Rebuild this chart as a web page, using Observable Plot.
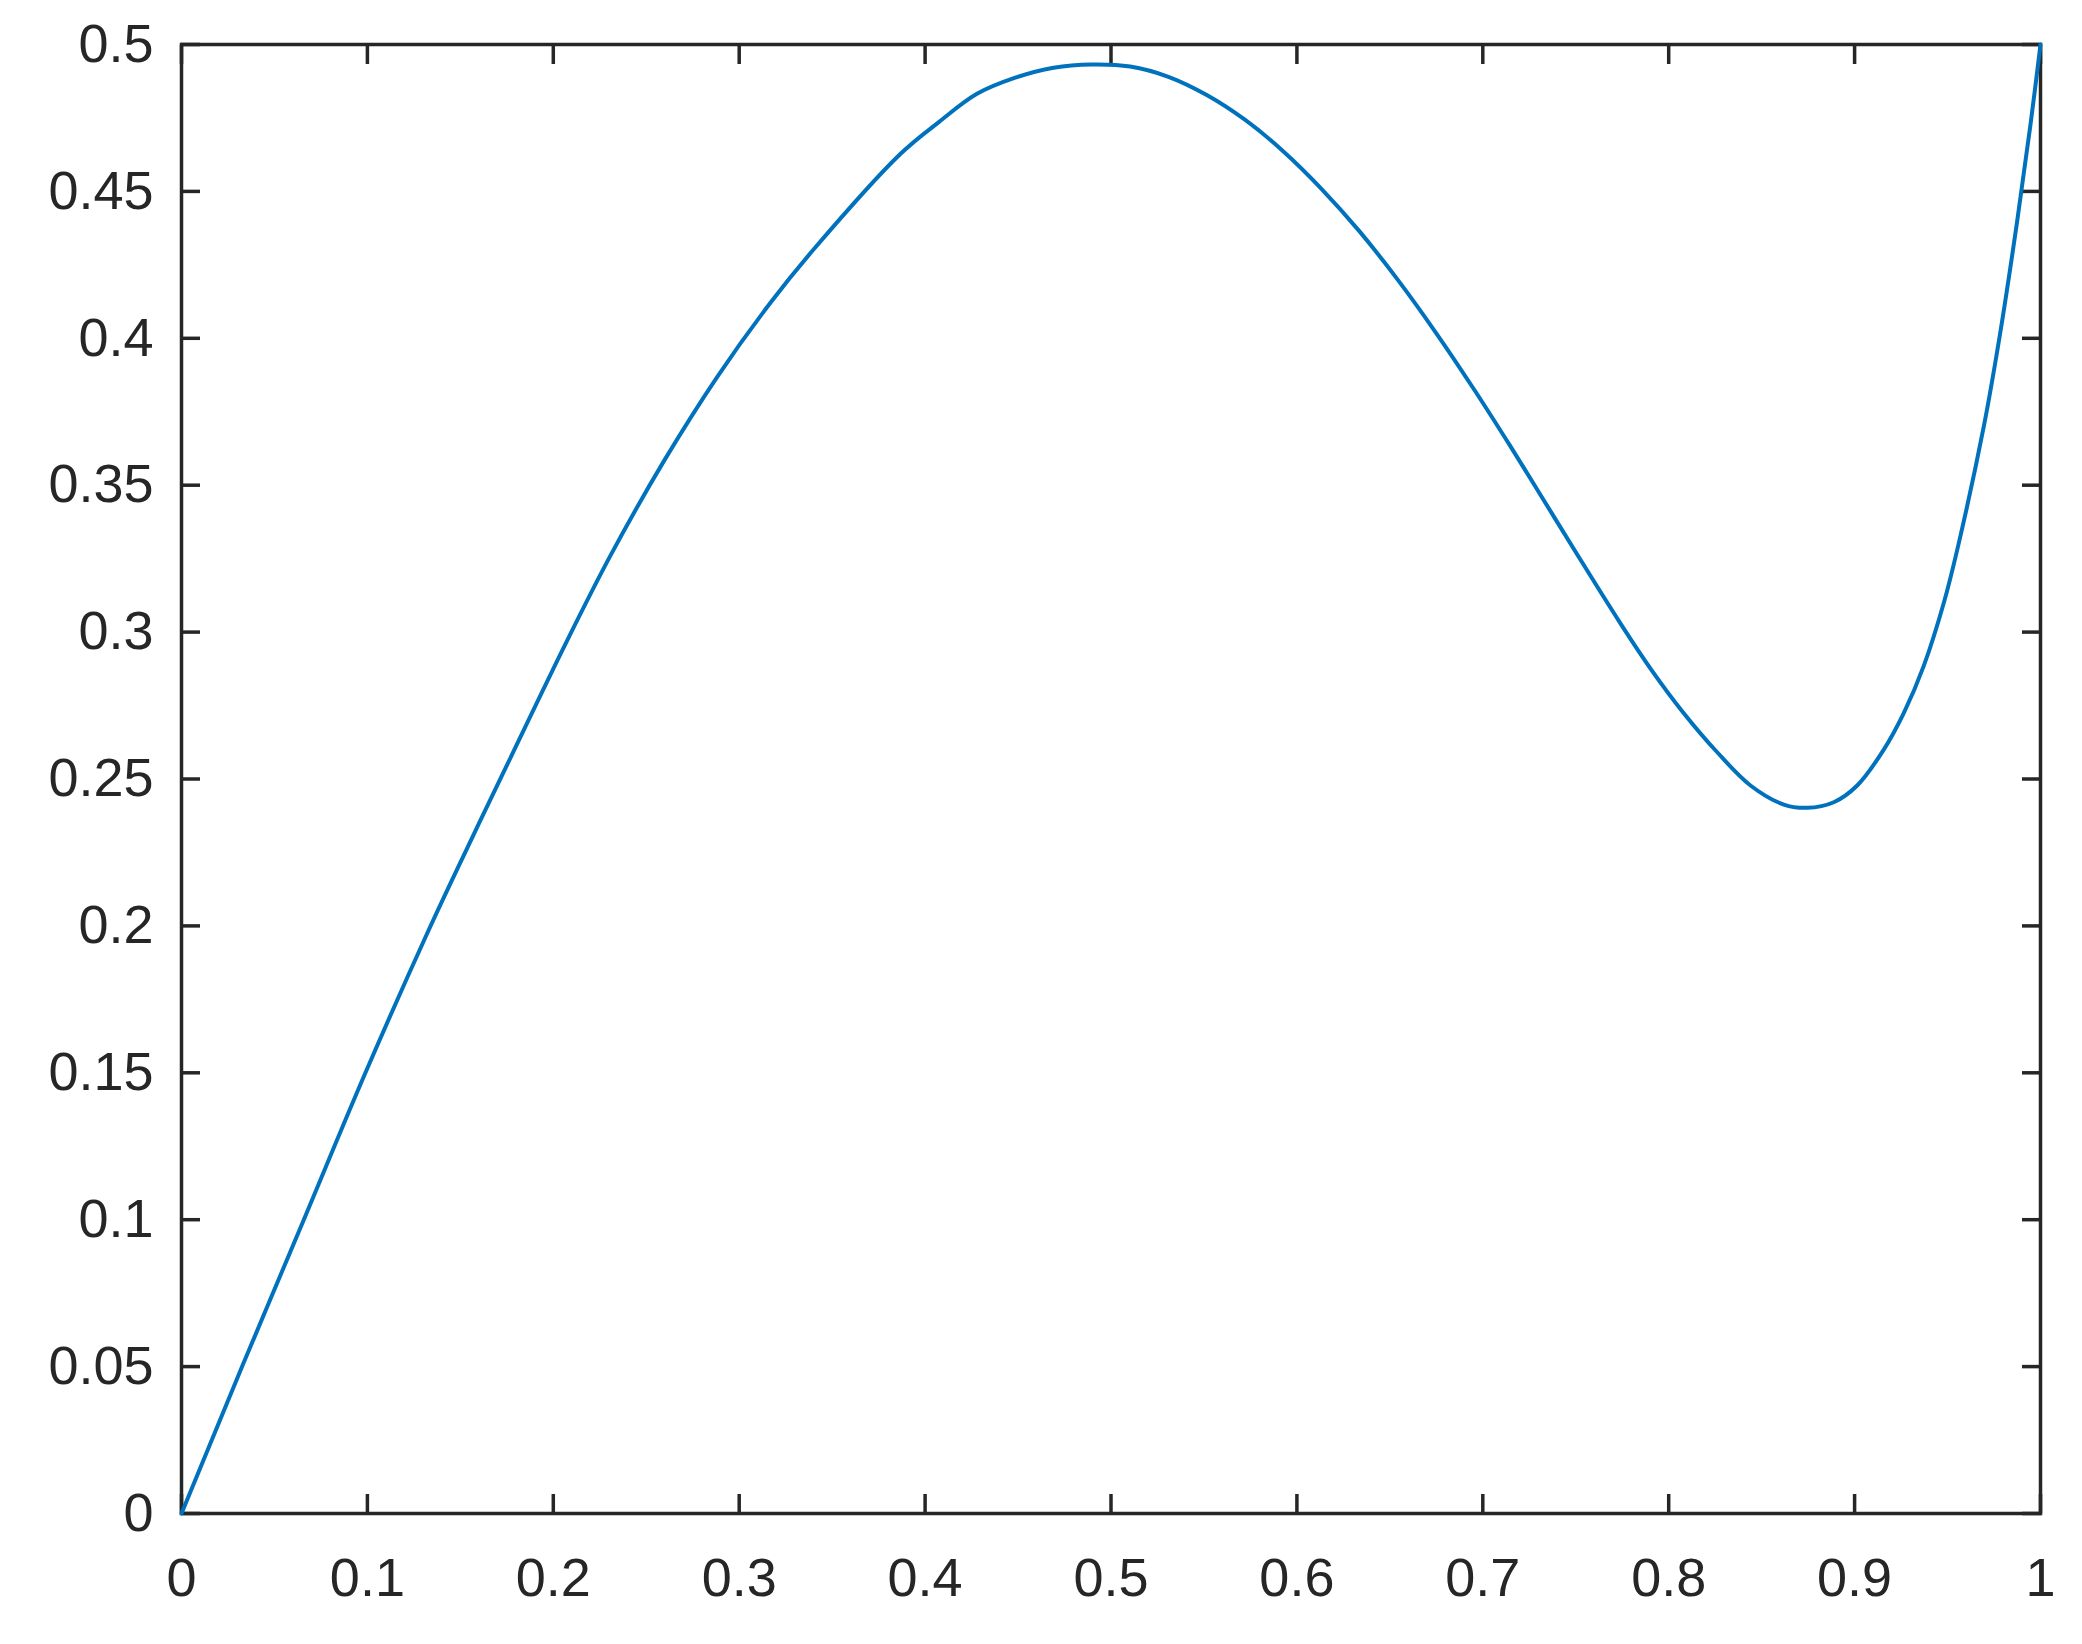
<!DOCTYPE html>
<html>
<head>
<meta charset="utf-8">
<script src="https://cdn.jsdelivr.net/npm/d3@7"></script>
<script src="https://cdn.jsdelivr.net/npm/@observablehq/plot@0.6"></script>
<style>
  html, body { margin: 0; padding: 0; background: #ffffff; }
  #chart svg { display: block; }
</style>
</head>
<body>
<div id="chart"></div>
<script>
const xValues = [0, 0.0326, 0.0658, 0.0986, 0.1322, 0.1537, 0.1752, 0.2075, 0.2308, 0.2594, 0.2882, 0.3168, 0.3401, 0.3868, 0.4074, 0.4279, 0.4485, 0.4691, 0.4897, 0.5103, 0.5309, 0.5515, 0.5720, 0.5926, 0.6132, 0.6338, 0.6544, 0.6750, 0.6955, 0.7149, 0.7328, 0.7508, 0.7741, 0.7902, 0.8081, 0.8261, 0.8440, 0.8619, 0.8745, 0.8888, 0.9014, 0.9157, 0.9265, 0.9372, 0.9480, 0.9552, 0.9695, 0.9785, 0.9875, 0.9946, 1.0];
const yValues = [0, 0.0500, 0.1000, 0.1495, 0.1975, 0.2265, 0.2549, 0.2972, 0.3261, 0.3581, 0.3869, 0.4121, 0.4303, 0.4628, 0.4736, 0.4832, 0.4887, 0.4921, 0.4932, 0.4925, 0.4890, 0.4828, 0.4744, 0.4637, 0.4509, 0.4363, 0.4198, 0.4017, 0.3824, 0.3632, 0.3449, 0.3264, 0.3029, 0.2876, 0.2724, 0.2591, 0.2478, 0.2413, 0.2402, 0.2421, 0.2478, 0.2600, 0.2725, 0.2885, 0.3100, 0.3280, 0.3700, 0.4025, 0.4401, 0.4727, 0.5000];

const xTicks = [0, 0.1, 0.2, 0.3, 0.4, 0.5, 0.6, 0.7, 0.8, 0.9, 1];
const xTickLabels = ["0", "0.1", "0.2", "0.3", "0.4", "0.5", "0.6", "0.7", "0.8", "0.9", "1"];
const yTicks = [0, 0.05, 0.1, 0.15, 0.2, 0.25, 0.3, 0.35, 0.4, 0.45, 0.5];
const yTickLabels = ["0", "0.05", "0.1", "0.15", "0.2", "0.25", "0.3", "0.35", "0.4", "0.45", "0.5"];

const data = xValues.map((x, i) => ({x, y: yValues[i]}));
const axisColor = "#262626";
const xLabel = d => xTickLabels[xTicks.indexOf(d)];
const yLabel = d => yTickLabels[yTicks.indexOf(d)];

const chart = Plot.plot({
  width: 2082,
  height: 1644,
  marginLeft: 181,
  marginRight: 42,
  marginTop: 44,
  marginBottom: 131,
  x: {domain: [0, 1]},
  y: {domain: [0, 0.5]},
  style: {
    fontFamily: "'Liberation Sans', Arial, Helvetica, sans-serif",
    fontSize: "54px",
    color: axisColor,
    background: "#ffffff"
  },
  marks: [
    Plot.frame({stroke: axisColor, strokeWidth: 3.5}),
    // inward ticks on all four sides
    Plot.axisX(xTicks, {anchor: "bottom", tickSize: -19, tickFormat: () => "", strokeWidth: 3.5, stroke: axisColor, label: null}),
    Plot.axisX(xTicks, {anchor: "top", tickSize: -19, tickFormat: () => "", strokeWidth: 3.5, stroke: axisColor, label: null}),
    Plot.axisY(yTicks, {anchor: "left", tickSize: -19, tickFormat: () => "", strokeWidth: 3.5, stroke: axisColor, label: null}),
    Plot.axisY(yTicks, {anchor: "right", tickSize: -19, tickFormat: () => "", strokeWidth: 3.5, stroke: axisColor, label: null}),
    // tick labels
    Plot.axisX(xTicks, {anchor: "bottom", tickSize: 0, tickPadding: 44, tickFormat: xLabel, fill: axisColor, label: null}),
    Plot.axisY(yTicks, {anchor: "left", tickSize: 0, tickPadding: 28, tickFormat: yLabel, fill: axisColor, label: null}),
    Plot.line(data, {x: "x", y: "y", stroke: "#0072BD", strokeWidth: 4, curve: "catmull-rom"})
  ]
});
document.getElementById("chart").appendChild(chart);
</script>
</body>
</html>
